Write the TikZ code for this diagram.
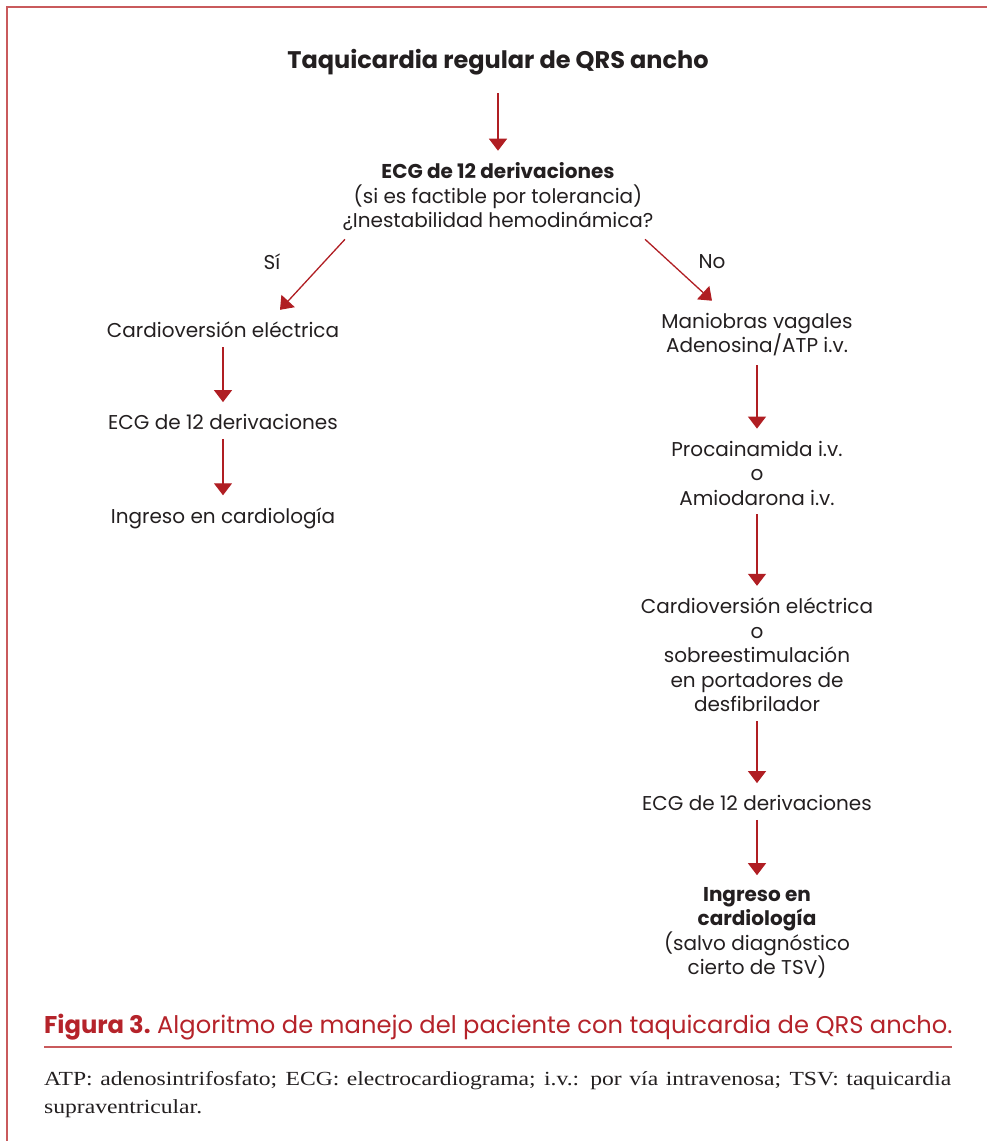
\documentclass[tikz,border=0pt]{standalone}
\usepackage{fontspec}
\usetikzlibrary{arrows.meta,calc}
\newfontfamily\mont{Poppins}
\newfontfamily\notefont[FakeStretch=1.18]{Liberation Serif}
\definecolor{arrowred}{HTML}{B01E23}
\definecolor{framered}{HTML}{C95A5C}
\definecolor{captred}{HTML}{B5232A}
\definecolor{textgray}{HTML}{231F20}

\begin{document}
\begin{tikzpicture}[
    x=1pt, y=-1pt,
    >={Triangle[width=18pt,length=12pt]},
    txt/.style={font=\mont\fontsize{20}{24.5}\selectfont, text=textgray, align=center, inner sep=0pt},
    arr/.style={->, line width=1.3pt, arrowred, shorten <=9pt, shorten >=12pt},
    diag/.style={->, line width=1.3pt, arrowred},
    frame/.style={framered, line width=1.2pt}
  ]
  \useasboundingbox (0,0) rectangle (987,1141);

  % Frame
  \draw[frame] (7,1141) -- (7,7) -- (987,7);

  % Top of the algorithm
  \node[txt, font=\mont\bfseries\fontsize{24}{28}\selectfont] (title) at (498,62) {Taquicardia regular de QRS ancho};
  \node[txt] (ecg) at (498,197) {{\bfseries ECG de 12 derivaciones}\\(si es factible por tolerancia)\\¿Inestabilidad hemodinámica?};
  \node[txt] (yes) at (272,262) {Sí};
  \node[txt] (no) at (712,262) {No};

  % Left branch
  \node[txt] (cvL) at (223,330) {Cardioversión eléctrica};
  \node[txt] (ecgL) at (223,422) {ECG de 12 derivaciones};
  \node[txt] (ingL) at (223,518) {Ingreso en cardiología};

  % Right branch
  \node[txt] (manR) at (757,334.5) {Maniobras vagales\\Adenosina/ATP i.v.};
  \node[txt] (procR) at (757,473) {Procainamida i.v.\\o\\Amiodarona i.v.};
  \node[txt] (cvR) at (757,655) {Cardioversión eléctrica\\o\\sobreestimulación\\en portadores de\\desfibrilador};
  \node[txt] (ecgR) at (757,803) {ECG de 12 derivaciones};
  \node[txt] (ingR) at (757,933) {{\bfseries Ingreso en}\\{\bfseries cardiología}\\(salvo diagnóstico\\cierto de TSV)};

  % Connectors
  \draw[arr, shorten <=18pt] (title) -- (ecg);
  \draw[diag] ($(ecg.south)+(-153,8)$) -- ($(cvL.north)+(57,-12)$);
  \draw[diag] ($(ecg.south)+(147,8)$) -- ($(manR.north)+(-45,-12)$);
  \draw[arr] (cvL) -- (ecgL);
  \draw[arr] (ecgL) -- (ingL);
  \draw[arr] (manR) -- (procR);
  \draw[arr] (procR) -- (cvR);
  \draw[arr] (cvR) -- (ecgR);
  \draw[arr] (ecgR) -- (ingR);

  % Caption and note
  \node[anchor=west, inner sep=0pt, text=captred, font=\mont\fontsize{24.2}{28}\selectfont] (cap) at (44,1027)
    {{\bfseries Figura 3.}\ Algoritmo de manejo del paciente con taquicardia de QRS ancho.};
  \draw[framered, line width=1.2pt] (44,1047) -- (952,1047);
  \node[anchor=north west, inner sep=0pt, text width=907pt, align=justify, text=textgray,
    font=\notefont\fontsize{20}{28}\selectfont] (note) at (44,1071)
    {ATP: adenosintrifosfato; ECG: electrocardiograma; i.v.: por vía intravenosa; TSV: taquicardia supraventricular.};
\end{tikzpicture}
\end{document}
